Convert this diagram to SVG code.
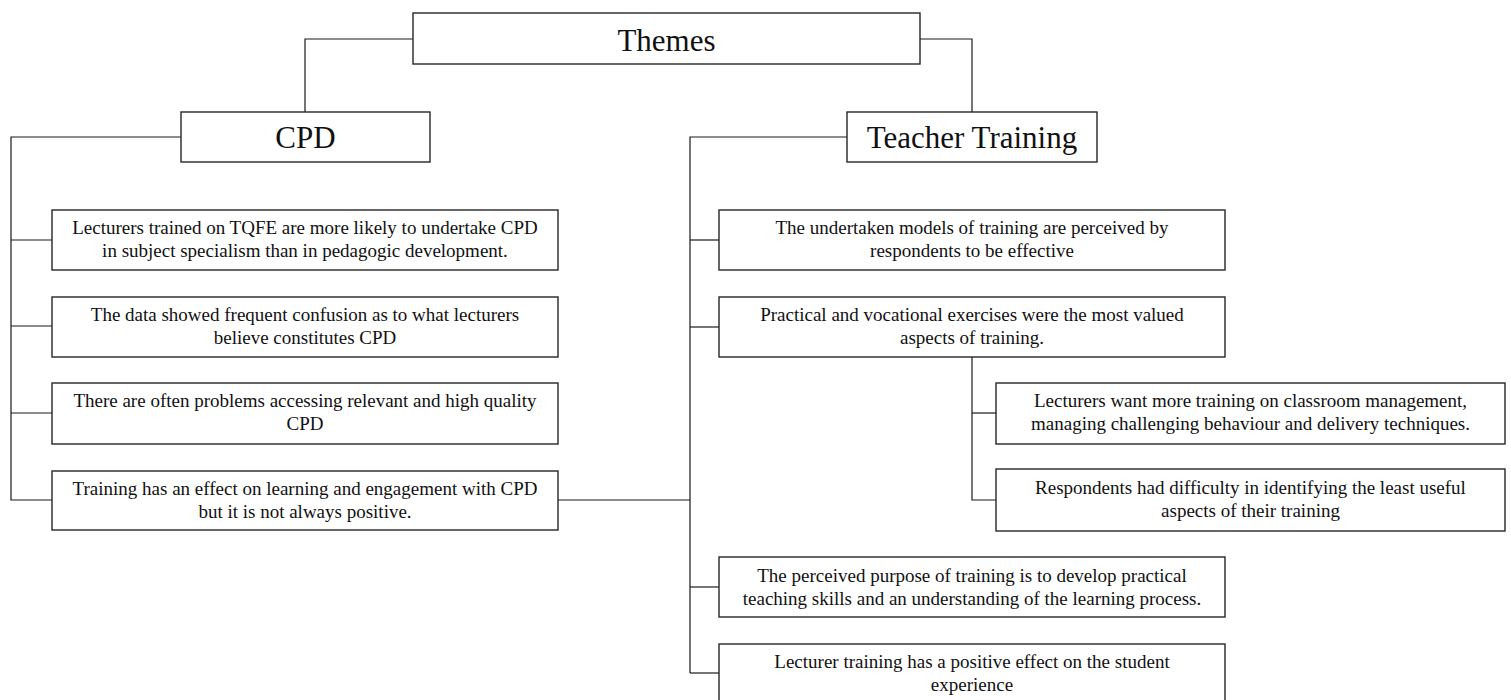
<svg xmlns="http://www.w3.org/2000/svg" width="1511" height="700" viewBox="0 0 1511 700">
  <style>
    .box { fill: #ffffff; stroke: #262626; stroke-width: 1.4; }
    .conn { fill: none; stroke: #1a1a1a; stroke-width: 1.2; }
    .head { font-family: "Liberation Serif", "Times New Roman", serif; font-size: 31px; fill: #111; text-anchor: middle; }
    .item { font-family: "Liberation Serif", "Times New Roman", serif; font-size: 19px; fill: #111; text-anchor: middle; }
  </style>

  <rect width="1511" height="700" fill="#ffffff"/>

  <!-- connectors -->
  <g id="connectors">
    <!-- Themes to the two branches -->
    <polyline class="conn" points="413,39 305,39 305,112"/>
    <polyline class="conn" points="920,39 972,39 972,112"/>
    <!-- CPD spine and ticks -->
    <polyline class="conn" points="181,137 11,137 11,500 52,500"/>
    <line class="conn" x1="11" y1="240" x2="52" y2="240"/>
    <line class="conn" x1="11" y1="326" x2="52" y2="326"/>
    <line class="conn" x1="11" y1="413" x2="52" y2="413"/>
    <!-- link between the two spines -->
    <line class="conn" x1="558" y1="500" x2="690" y2="500"/>
    <!-- Teacher Training spine and ticks -->
    <polyline class="conn" points="847,137 690,137 690,673"/>
    <line class="conn" x1="690" y1="240" x2="719" y2="240"/>
    <line class="conn" x1="690" y1="327" x2="719" y2="327"/>
    <line class="conn" x1="690" y1="587" x2="719" y2="587"/>
    <line class="conn" x1="690" y1="673" x2="719" y2="673" stroke="#7fa9d9"/>
    <!-- sub-branch under practical exercises -->
    <polyline class="conn" points="972,357 972,500 996,500"/>
    <line class="conn" x1="972" y1="413" x2="996" y2="413"/>
  </g>

  <g id="themes">
    <rect class="box" x="413" y="13" width="507" height="51"/>
    <text class="head" x="666.5" y="51">Themes</text>
  </g>

  <g id="cpd">
    <rect class="box" x="181" y="112" width="249" height="50"/>
    <text class="head" x="305.5" y="148">CPD</text>
  </g>

  <g id="teacher-training">
    <rect class="box" x="847" y="112" width="250" height="50"/>
    <text class="head" x="972" y="148">Teacher Training</text>
  </g>

  <g id="cpd-1">
    <rect class="box" x="52" y="210" width="506" height="60"/>
    <text class="item" x="305" y="234">Lecturers trained on TQFE are more likely to undertake CPD</text>
    <text class="item" x="305" y="257">in subject specialism than in pedagogic development.</text>
  </g>

  <g id="cpd-2">
    <rect class="box" x="52" y="297" width="506" height="60"/>
    <text class="item" x="305" y="321">The data showed frequent confusion as to what lecturers</text>
    <text class="item" x="305" y="344">believe constitutes CPD</text>
  </g>

  <g id="cpd-3">
    <rect class="box" x="52" y="383" width="506" height="61"/>
    <text class="item" x="305" y="407">There are often problems accessing relevant and high quality</text>
    <text class="item" x="305" y="430">CPD</text>
  </g>

  <g id="cpd-4">
    <rect class="box" x="52" y="471" width="506" height="59"/>
    <text class="item" x="305" y="495">Training has an effect on learning and engagement with CPD</text>
    <text class="item" x="305" y="518">but it is not always positive.</text>
  </g>

  <g id="tt-1">
    <rect class="box" x="719" y="210" width="506" height="60"/>
    <text class="item" x="972" y="234">The undertaken models of training are perceived by</text>
    <text class="item" x="972" y="257">respondents to be effective</text>
  </g>

  <g id="tt-2">
    <rect class="box" x="719" y="297" width="506" height="60"/>
    <text class="item" x="972" y="321">Practical and vocational exercises were the most valued</text>
    <text class="item" x="972" y="344">aspects of training.</text>
  </g>

  <g id="tt-2a">
    <rect class="box" x="996" y="383" width="509" height="61"/>
    <text class="item" x="1250.5" y="407">Lecturers want more training on classroom management,</text>
    <text class="item" x="1250.5" y="430">managing challenging behaviour and delivery techniques.</text>
  </g>

  <g id="tt-2b">
    <rect class="box" x="996" y="469" width="509" height="62"/>
    <text class="item" x="1250.5" y="494">Respondents had difficulty in identifying the least useful</text>
    <text class="item" x="1250.5" y="517">aspects of their training</text>
  </g>

  <g id="tt-3">
    <rect class="box" x="719" y="557" width="506" height="60"/>
    <text class="item" x="972" y="582">The perceived purpose of training is to develop practical</text>
    <text class="item" x="972" y="605">teaching skills and an understanding of the learning process.</text>
  </g>

  <g id="tt-4">
    <rect class="box" x="719" y="644" width="506" height="60"/>
    <text class="item" x="972" y="668">Lecturer training has a positive effect on the student</text>
    <text class="item" x="972" y="691">experience</text>
  </g>
</svg>
